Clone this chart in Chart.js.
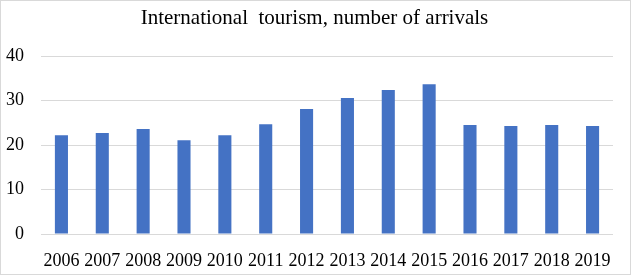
<!DOCTYPE html>
<html>
<head>
<meta charset="utf-8">
<script src="https://cdn.jsdelivr.net/npm/chart.js@4"></script>
<style>
html,body{margin:0;padding:0;background:#fff;}
#wrap{position:relative;width:631px;height:275px;}
</style>
</head>
<body>
<div id="wrap"><canvas id="c" width="631" height="275"></canvas></div>
<script>
const years = ["2006","2007","2008","2009","2010","2011","2012","2013","2014","2015","2016","2017","2018","2019"];
const arrivals = [22.2,22.7,23.6,21.1,22.2,24.7,28.1,30.6,32.4,33.7,24.5,24.3,24.5,24.3];
const yTicks = [0,10,20,30,40];
const titleText = "International  tourism, number of arrivals";

const borderPlugin = {
  id: 'frame',
  afterDraw(chart) {
    const ctx = chart.ctx;
    ctx.save();
    ctx.strokeStyle = '#d9d9d9';
    ctx.lineWidth = 1;
    ctx.strokeRect(0.5, 0.5, chart.width - 1, chart.height - 1);
    ctx.restore();
  }
};

new Chart(document.getElementById('c'), {
  type: 'bar',
  data: {
    labels: years,
    datasets: [{
      data: arrivals,
      backgroundColor: '#4472c4',
      categoryPercentage: 1,
      barPercentage: 0.32
    }]
  },
  options: {
    responsive: false,
    animation: false,
    layout: { padding: { left: 0, right: 2, top: 6, bottom: 1 } },
    plugins: {
      legend: { display: false },
      tooltip: { enabled: false },
      title: {
        display: true,
        text: titleText,
        color: '#000',
        font: { family: 'Liberation Serif', size: 21, weight: 'normal' },
        padding: { top: 0, bottom: 25 }
      }
    },
    scales: {
      x: {
        grid: { display: false, drawTicks: false },
        border: { display: false },
        afterFit(axis) { axis.height = 40; },
        ticks: {
          color: '#000',
          font: { family: 'Liberation Serif', size: 18 },
          maxRotation: 0,
          autoSkip: false,
          padding: 16
        }
      },
      y: {
        min: 0,
        max: 40,
        afterBuildTicks(axis) { axis.ticks = yTicks.map(v => ({ value: v })); },
        afterFit(axis) { axis.width = 41; },
        grid: { color: '#d9d9d9', drawTicks: false, lineWidth: 1 },
        border: { display: false },
        ticks: {
          color: '#000',
          font: { family: 'Liberation Serif', size: 18 },
          padding: 17
        }
      },
      yRight: {
        position: 'right',
        min: 0,
        max: 40,
        afterFit(axis) { axis.width = 16; },
        grid: { display: false, drawTicks: false },
        border: { display: false },
        ticks: { display: false }
      }
    }
  },
  plugins: [borderPlugin]
});
</script>
</body>
</html>
